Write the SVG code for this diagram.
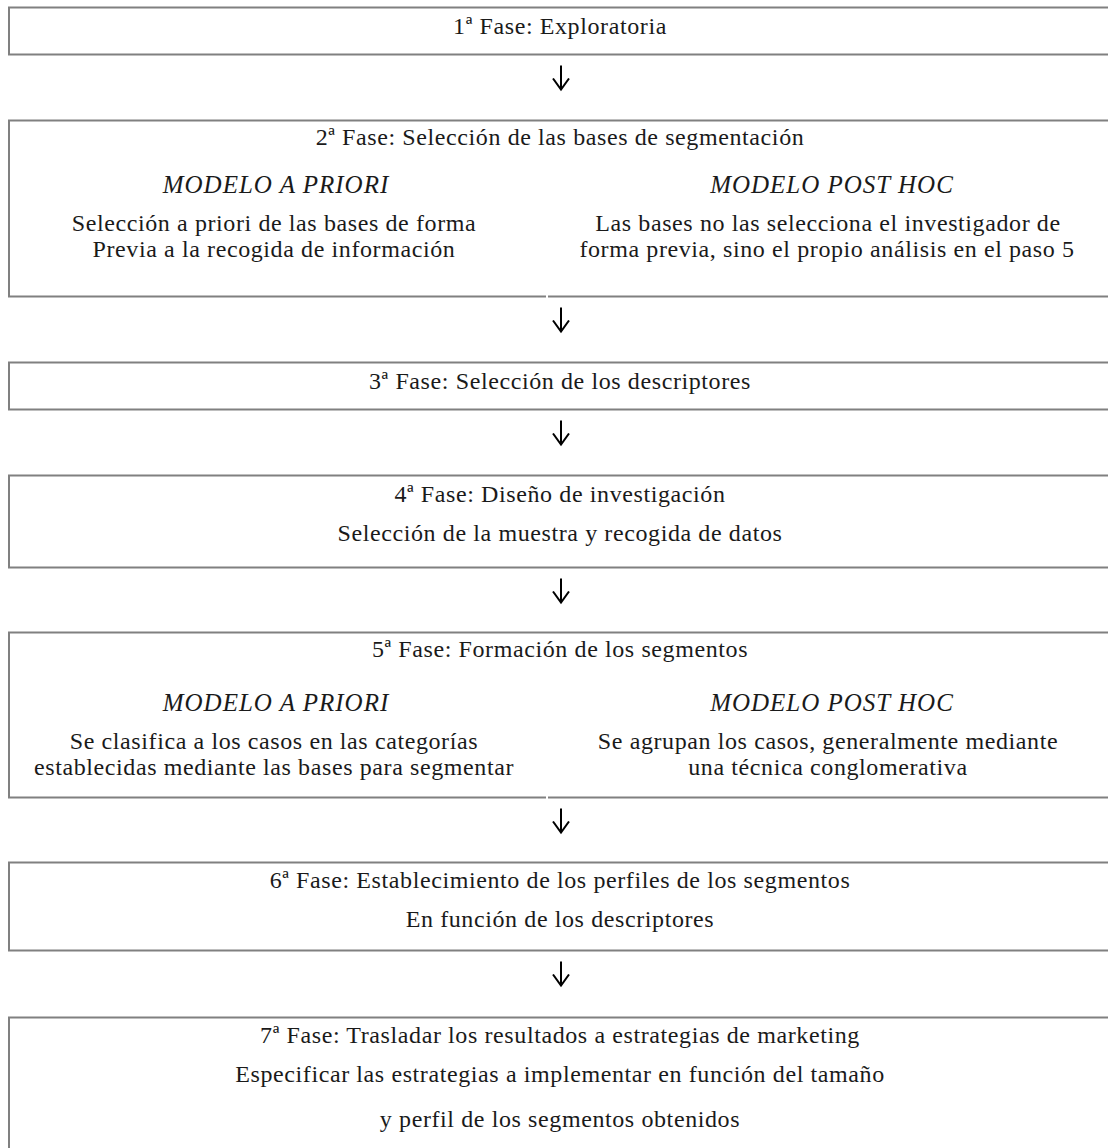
<svg xmlns="http://www.w3.org/2000/svg" width="1108" height="1148" viewBox="0 0 1108 1148">
  <style>
    .box { fill: none; stroke: #808080; stroke-width: 2; }
    .t { font-family: "Liberation Serif", "Times New Roman", serif; font-size: 24px; letter-spacing: 0.6px; fill: #1a1a1a; text-anchor: middle; }
    .it { font-style: italic; font-size: 25px; letter-spacing: 1px; }
    .conn { stroke: #000; stroke-width: 2; fill: none; }
  </style>
  <defs>
    <!-- open chevron head, drawn along +x so orient="auto" turns it downward -->
    <marker id="head" viewBox="0 0 14 18" refX="12" refY="9" markerWidth="14" markerHeight="18" markerUnits="userSpaceOnUse" orient="auto">
      <path d="M1,1 L12,9 L1,17" fill="none" stroke="#000" stroke-width="2"/>
    </marker>
  </defs>
  <rect width="1108" height="1148" fill="#fff"/>

  <g id="fase1">
    <path class="box" d="M1110,7.5 H9 V54.5 H1110"/>
    <text class="t" x="560" y="33.5">1ª Fase: Exploratoria</text>
  </g>

  <g id="fase2">
    <path class="box" d="M1110,120.5 H9 V296.5 H546"/>
    <path class="box" d="M548,296.5 H1110"/>
    <text class="t" x="560" y="145">2ª Fase: Selección de las bases de segmentación</text>
    <text class="t it" x="276" y="193">MODELO A PRIORI</text>
    <text class="t" x="274" y="231">Selección a priori de las bases de forma</text>
    <text class="t" x="274" y="257">Previa a la recogida de información</text>
    <text class="t it" x="832" y="193">MODELO POST HOC</text>
    <text class="t" x="828" y="231">Las bases no las selecciona el investigador de</text>
    <text class="t" x="827" y="257">forma previa, sino el propio análisis en el paso 5</text>
  </g>

  <g id="fase3">
    <path class="box" d="M1110,362.5 H9 V409.5 H1110"/>
    <text class="t" x="560" y="388.5">3ª Fase: Selección de los descriptores</text>
  </g>

  <g id="fase4">
    <path class="box" d="M1110,475.5 H9 V567.5 H1110"/>
    <text class="t" x="560" y="501.5">4ª Fase: Diseño de investigación</text>
    <text class="t" x="560" y="540.5">Selección de la muestra y recogida de datos</text>
  </g>

  <g id="fase5">
    <path class="box" d="M1110,632.5 H9 V797.5 H546"/>
    <path class="box" d="M548,797.5 H1110"/>
    <text class="t" x="560" y="657">5ª Fase: Formación de los segmentos</text>
    <text class="t it" x="276" y="711">MODELO A PRIORI</text>
    <text class="t" x="274" y="749">Se clasifica a los casos en las categorías</text>
    <text class="t" x="274" y="775">establecidas mediante las bases para segmentar</text>
    <text class="t it" x="832" y="711">MODELO POST HOC</text>
    <text class="t" x="828" y="749">Se agrupan los casos, generalmente mediante</text>
    <text class="t" x="828" y="775">una técnica conglomerativa</text>
  </g>

  <g id="fase6">
    <path class="box" d="M1110,862.5 H9 V950.5 H1110"/>
    <text class="t" x="560" y="888">6ª Fase: Establecimiento de los perfiles de los segmentos</text>
    <text class="t" x="560" y="927">En función de los descriptores</text>
  </g>

  <g id="fase7">
    <path class="box" d="M1110,1017.5 H9 V1150"/>
    <text class="t" x="560" y="1043">7ª Fase: Trasladar los resultados a estrategias de marketing</text>
    <text class="t" x="560" y="1082">Especificar las estrategias a implementar en función del tamaño</text>
    <text class="t" x="560" y="1127">y perfil de los segmentos obtenidos</text>
  </g>

  <g id="connectors">
    <line class="conn" x1="561" y1="65.5" x2="561" y2="89.5" marker-end="url(#head)"/>
    <line class="conn" x1="561" y1="307.5" x2="561" y2="331.5" marker-end="url(#head)"/>
    <line class="conn" x1="561" y1="420.5" x2="561" y2="444.5" marker-end="url(#head)"/>
    <line class="conn" x1="561" y1="578.5" x2="561" y2="602.5" marker-end="url(#head)"/>
    <line class="conn" x1="561" y1="808.5" x2="561" y2="832.5" marker-end="url(#head)"/>
    <line class="conn" x1="561" y1="961.5" x2="561" y2="985.5" marker-end="url(#head)"/>
  </g>
</svg>
